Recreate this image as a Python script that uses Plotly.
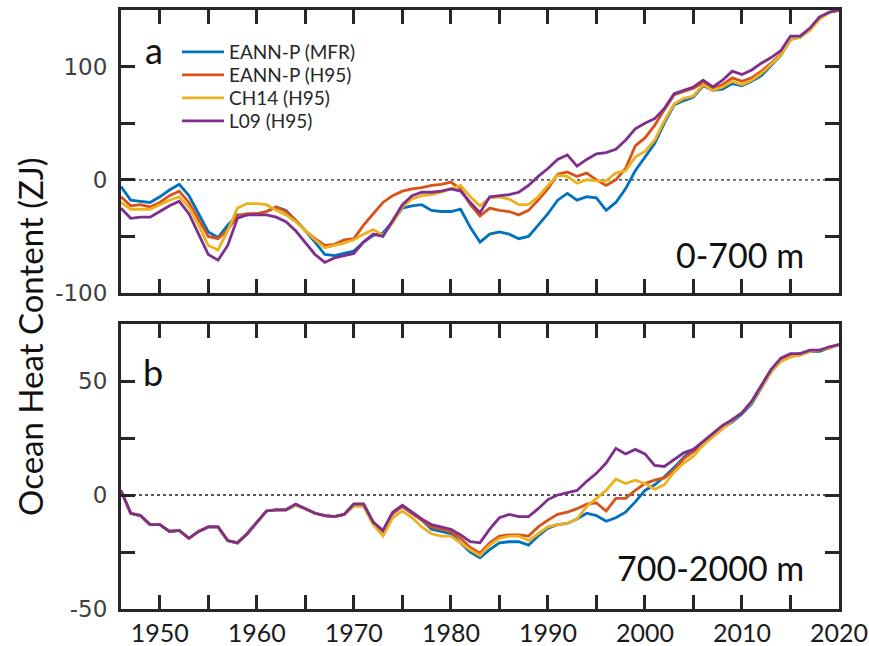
import plotly.graph_objects as go

YEARS = list(range(1946, 2021))

# 0-700 m (panel a)
A_MFR = [-6, -18, -19, -20, -15, -9, -4, -14, -30, -46, -51, -40, -31, -31, -30, -28, -24, -27, -36, -45,
         -55, -66, -67, -65, -63, -55, -49, -47, -37, -25, -23, -22, -27, -28, -28, -26, -42, -55, -48, -46,
         -48, -52, -50, -40, -30, -18, -12, -18, -15, -16, -27, -20, -8, 8, 20, 32, 50, 66, 70, 73,
         83, 79, 80, 85, 83, 87, 92, 101, 110, 124, 126, 133, 143, 148, 150]
A_H95 = [-15, -23, -22, -24, -20, -14, -10, -20, -35, -50, -52, -44, -32, -30, -30, -28, -24, -28, -36, -45,
         -52, -58, -57, -53, -52, -40, -30, -20, -14, -10, -8, -7, -5, -4, -2, -8, -22, -32, -25, -27,
         -28, -31, -27, -18, -8, 5, 7, 3, 6, 0, -5, 0, 10, 30, 37, 48, 62, 75, 78, 81,
         86, 81, 84, 90, 87, 90, 96, 103, 111, 124, 127, 133, 143, 148, 150]
A_CH14 = [-20, -26, -26, -26, -22, -18, -15, -24, -40, -58, -62, -45, -25, -21, -21, -22, -27, -31, -37, -45,
          -53, -60, -58, -56, -53, -48, -44, -49, -38, -24, -17, -14, -13, -11, -8, -5, -15, -23, -16, -15,
          -17, -22, -22, -15, -5, 4, 3, -3, 0, -1, -1, 6, 8, 20, 25, 35, 52, 67, 72, 74,
          84, 79, 82, 87, 84, 88, 94, 102, 110, 124, 126, 132, 142, 148, 150]
A_L09 = [-25, -34, -33, -33, -28, -23, -19, -30, -48, -66, -71, -58, -34, -31, -31, -31, -33, -37, -45, -56,
         -66, -73, -69, -67, -65, -55, -48, -50, -36, -22, -14, -11, -11, -10, -8, -10, -20, -29, -15, -14,
         -13, -11, -5, 3, 10, 18, 22, 12, 18, 23, 24, 27, 35, 45, 50, 54, 63, 76, 79, 82,
         88, 82, 88, 96, 93, 97, 103, 108, 114, 127, 127, 134, 144, 148, 150]

# 700-2000 m (panel b)
B_MFR = [2, -8, -9, -13, -13, -16, -15.5, -19, -16, -14, -14, -20, -21, -17, -12, -7, -6.5, -6.5, -4.5, -6,
         -8, -9, -9.5, -8.5, -4, -4, -12, -16, -8, -5, -8, -11, -15, -16, -17, -21, -25, -27.5, -24, -21,
         -20.5, -20.5, -22, -18, -14.5, -13, -12.5, -10.5, -8, -9, -11.5, -10, -7.5, -3, 2, 4.5, 8, 12, 16.5, 20,
         23, 26.5, 29.5, 32, 35.5, 40, 47, 54, 59, 61, 61.5, 63, 63, 64.5, 66]
B_H95 = [2, -8, -9, -13, -13, -16, -15.5, -19, -16, -14, -14, -20, -21, -17, -12, -7, -6.5, -6.5, -4.5, -6,
         -8, -9, -9.5, -8.5, -4, -4, -12, -16, -8, -5, -8, -11, -14, -15, -16, -19, -23, -25.5, -21, -18,
         -17.5, -17.5, -18, -14, -11, -8.5, -7.5, -6, -4, -3.5, -7, -1.5, -1.5, 2, 5, 6.5, 7.5, 11, 16, 19,
         22, 26, 30, 33, 36, 41, 48, 55, 59, 61, 62, 63, 63.5, 64.5, 66]
B_CH14 = [2, -8, -9, -13, -13, -16, -15.5, -19, -16, -14, -14, -20, -21, -17, -12, -7, -6.5, -6.5, -4.5, -6,
          -8, -9, -9.5, -8.5, -5, -5, -13, -18, -10, -7, -10, -14, -17, -18, -18, -21, -24, -26.5, -22, -19,
          -18, -18, -20, -17, -14, -13, -12.5, -10.5, -5, -1.5, 2, 7, 5, 6.5, 5, 2.5, 4.5, 10, 14, 17,
          22, 25.5, 29, 32.5, 36, 40.5, 47.5, 54, 58.5, 60.5, 61.5, 63, 63.5, 64.5, 66]
B_L09 = [2, -8, -9, -13, -13, -16, -15.5, -19, -16, -14, -14, -20, -21, -17, -12, -7, -6.5, -6.5, -4, -6,
         -8, -9, -9.5, -8.5, -4, -4, -12, -15.5, -7.5, -4.5, -7.5, -10.5, -13, -14, -15, -17.5, -20.5, -21, -15, -10,
         -8.5, -9.5, -9.5, -6, -2, 0, 1, 2, 6, 9.5, 14, 20.5, 18, 20, 18, 13, 12.5, 15.5, 18.5, 20,
         23.5, 27, 30.5, 33, 36, 41, 48, 55, 60, 62, 62, 63.5, 63.5, 65, 66]

NAMES = ["EANN-P (MFR)", "EANN-P (H95)", "CH14 (H95)", "L09 (H95)"]
COLORS = ["#0072BD", "#D95319", "#EDB120", "#7E2F8E"]

X_TICKS = [1950, 1955, 1960, 1965, 1970, 1975, 1980, 1985, 1990, 1995, 2000, 2005, 2010, 2015, 2020]
X_TEXT = ["1950", "", "1960", "", "1970", "", "1980", "", "1990", "", "2000", "", "2010", "", "2020"]
YA_TICKS = [-100, -50, 0, 50, 100, 150]
YA_TEXT = ["-100", "", "0", "", "100", ""]
YB_TICKS = [-50, -25, 0, 25, 50, 75]
YB_TEXT = ["-50", "", "0", "", "50", ""]

W, H = 869, 646
ML, MR, MT, MB = 121, 30, 10, 37
PW, PH = W - ML - MR, H - MT - MB


def px(xp):
    return (xp - ML) / PW


def py(yp):
    return (H - MB - yp) / PH


fig = go.Figure()
legend_ids = ["legend", "legend2", "legend3", "legend4"]
for i, (name, col) in enumerate(zip(NAMES, COLORS)):
    a = [A_MFR, A_H95, A_CH14, A_L09][i]
    b = [B_MFR, B_H95, B_CH14, B_L09][i]
    fig.add_trace(go.Scatter(x=YEARS, y=a, mode="lines", name=name,
                             line=dict(color=col, width=2.8), xaxis="x", yaxis="y",
                             legend=legend_ids[i], showlegend=True))
    fig.add_trace(go.Scatter(x=YEARS, y=b, mode="lines", name=name,
                             line=dict(color=col, width=2.8), xaxis="x2", yaxis="y2",
                             showlegend=False))

frame = dict(showline=True, linewidth=3, linecolor="#262626", mirror="ticks",
             ticks="inside", ticklen=14, tickwidth=3, tickcolor="#262626",
             showgrid=False, zeroline=False, automargin=False,
             ticklabeloverflow="allow")

fig.update_layout(
    width=W, height=H, margin=dict(l=ML, r=MR, t=MT, b=MB, autoexpand=False),
    paper_bgcolor="white", plot_bgcolor="white",
    xaxis=dict(domain=[0, 1], range=[1946, 2020], anchor="y", tickmode="array",
               tickvals=X_TICKS, ticktext=X_TEXT, showticklabels=False, **frame),
    yaxis=dict(domain=[py(293), 1], range=[-100, 150], anchor="x", tickmode="array",
               tickvals=YA_TICKS, ticktext=YA_TEXT,
               tickfont=dict(family="DejaVu Sans", size=23, color="#404040"),
               ticklabelstandoff=6, **frame),
    xaxis2=dict(domain=[0, 1], range=[1946, 2020], anchor="y2", tickmode="array",
                tickvals=X_TICKS, ticktext=X_TEXT,
                tickfont=dict(family="Lato", size=25, color="#1a1a1a"),
                ticklabelstandoff=0, **frame),
    yaxis2=dict(domain=[0, py(324)], range=[-50, 75], anchor="x2", tickmode="array",
                tickvals=YB_TICKS, ticktext=YB_TEXT,
                tickfont=dict(family="DejaVu Sans", size=23, color="#404040"),
                ticklabelstandoff=6, **frame),
    showlegend=True,
)

leg_y = [52, 75, 98, 121]
for lid, yp in zip(legend_ids, leg_y):
    fig.update_layout(**{lid: dict(x=px(177), xanchor="left", y=py(yp), yanchor="middle",
                                   bgcolor="rgba(0,0,0,0)", borderwidth=0, itemwidth=42,
                                   font=dict(family="Lato", size=19, color="#262626"))})

# zero lines
for xr, yr in [("x", "y"), ("x2", "y2")]:
    fig.add_shape(type="line", xref=f"{xr} domain", yref=yr, x0=0, x1=1, y0=0, y1=0,
                  line=dict(color="#222222", width=1.3, dash="dot"), layer="below")

anns = [
    dict(text="a", x=px(143), y=py(50), xanchor="left", yanchor="middle", size=36),
    dict(text="b", x=px(141), y=py(372), xanchor="left", yanchor="middle", size=36),
    dict(text="0-700 m", x=px(806), y=py(254), xanchor="right", yanchor="middle", size=34),
    dict(text="700-2000 m", x=px(806), y=py(567), xanchor="right", yanchor="middle", size=34),
]
for a in anns:
    fig.add_annotation(text=a["text"], x=a["x"], y=a["y"], xref="paper", yref="paper",
                       xanchor=a["xanchor"], yanchor=a["yanchor"], showarrow=False,
                       font=dict(family="Lato", size=a["size"], color="#111111"))

fig.add_annotation(text="Ocean Heat Content (ZJ)", x=px(30), y=py(337), xref="paper", yref="paper",
                   xanchor="center", yanchor="middle", showarrow=False, textangle=-90,
                   font=dict(family="Lato", size=33, color="#111111"))

fig.write_html("out.html")
